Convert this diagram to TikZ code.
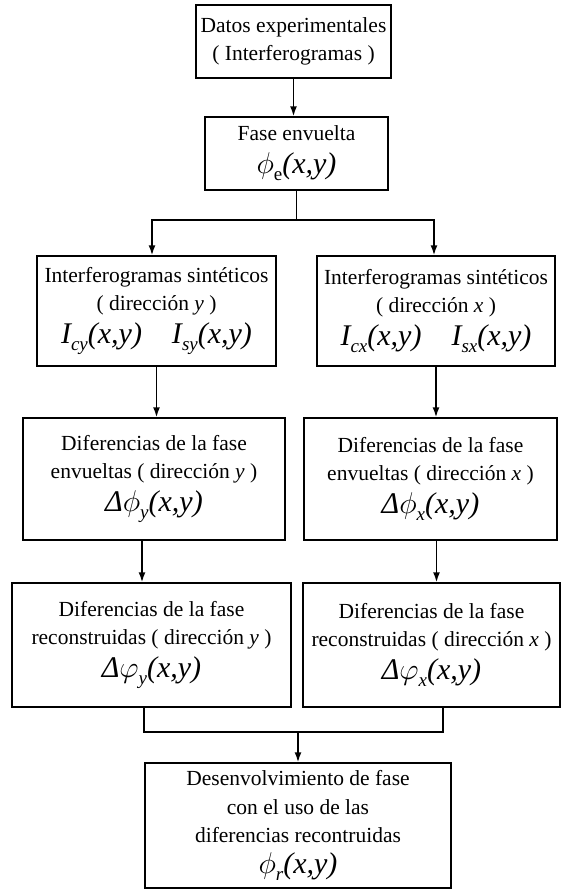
\RequirePackage{fix-cm}
\documentclass[tikz,border=0pt]{standalone}
\usepackage{fontspec}
\setmainfont{Liberation Serif}
\usetikzlibrary{arrows.meta}

\newcommand{\mth}[1]{{\fontsize{30}{32}\selectfont\itshape #1}}
\newcommand{\sbs}[1]{\raisebox{-0.55ex}{\fontsize{19}{19}\selectfont #1}}

\tikzset{
  caja/.style={draw, line width=1.5pt, align=center, inner sep=0pt},
}

\begin{document}
\begin{tikzpicture}[x=1pt, y=-1pt, >={Latex[length=10pt,width=7pt]}, line width=1.5pt,
    font=\fontsize{21.5}{28.5}\selectfont]
    \useasboundingbox (0,0) rectangle (571,891);
    % cajas
    \node[caja, minimum width=195pt, minimum height=73pt] (datos) at (293.5,41.5)
        {Datos experimentales\\( Interferogramas )};
    \node[caja, minimum width=183pt, minimum height=73pt] (fase) at (296.5,153.5)
        {Fase envuelta\\[4pt]\mth{$\phi$\sbs{\upshape e}(x,y)}};
    \node[caja, minimum width=239pt, minimum height=110pt] (inty) at (156.5,311)
        {Interferogramas sintéticos\\( dirección \textit{y} )\\[4pt]\mth{I\sbs{cy}(x,y)\quad I\sbs{sy}(x,y)}};
    \node[caja, minimum width=238pt, minimum height=110pt] (intx) at (436,311)
        {Interferogramas sintéticos\\( dirección \textit{x} )\\[4pt]\mth{I\sbs{cx}(x,y)\quad I\sbs{sx}(x,y)}};
    \node[caja, minimum width=262pt, minimum height=122pt] (dify) at (154,479)
        {Diferencias de la fase\\envueltas ( dirección \textit{y} )\\[4pt]\mth{Δ$\phi$\sbs{y}(x,y)}};
    \node[caja, minimum width=253pt, minimum height=122pt] (difx) at (430.5,479)
        {Diferencias de la fase\\envueltas ( dirección \textit{x} )\\[4pt]\mth{Δ$\phi$\sbs{x}(x,y)}};
    \node[caja, minimum width=279pt, minimum height=124pt] (recy) at (151.5,645)
        {Diferencias de la fase\\reconstruidas ( dirección \textit{y} )\\[4pt]\mth{Δ$\varphi$\sbs{y}(x,y)}};
    \node[caja, minimum width=257pt, minimum height=124pt] (recx) at (431.5,645)
        {Diferencias de la fase\\reconstruidas ( dirección \textit{x} )\\[4pt]\mth{Δ$\varphi$\sbs{x}(x,y)}};
    \node[caja, minimum width=306pt, minimum height=125pt] (desenv) at (298,825.5)
        {Desenvolvimiento de fase\\con el uso de las\\diferencias recontruidas\\[2pt]\mth{$\phi$\sbs{r}(x,y)}};
    % puntos de union
    \coordinate (sl) at (152,220);
    \coordinate (sr) at (434,220);
    \coordinate (ml) at (144,732);
    \coordinate (mr) at (443,732);
    % flechas
    \draw[->] (datos.south) -- (datos.south |- fase.north);
    \draw (fase.south) -- (fase.south |- sl);
    \draw[->] (fase.south |- sl) -- (sl) -- (sl |- inty.north);
    \draw[->] (fase.south |- sr) -- (sr) -- (sr |- intx.north);
    \draw[->] (inty.south) -- (inty.south |- dify.north);
    \draw[->] (intx.south) -- (intx.south |- difx.north);
    \draw[->] ([xshift=-12pt]dify.south) -- ([xshift=-12pt]dify.south |- recy.north);
    \draw[->] ([xshift=6pt]difx.south) -- ([xshift=6pt]difx.south |- recx.north);
    \draw (recy.south -| ml) -- (ml) -- (mr) -- (recx.south -| mr);
    \draw[->] (desenv.north |- ml) -- (desenv.north);
\end{tikzpicture}
\end{document}
